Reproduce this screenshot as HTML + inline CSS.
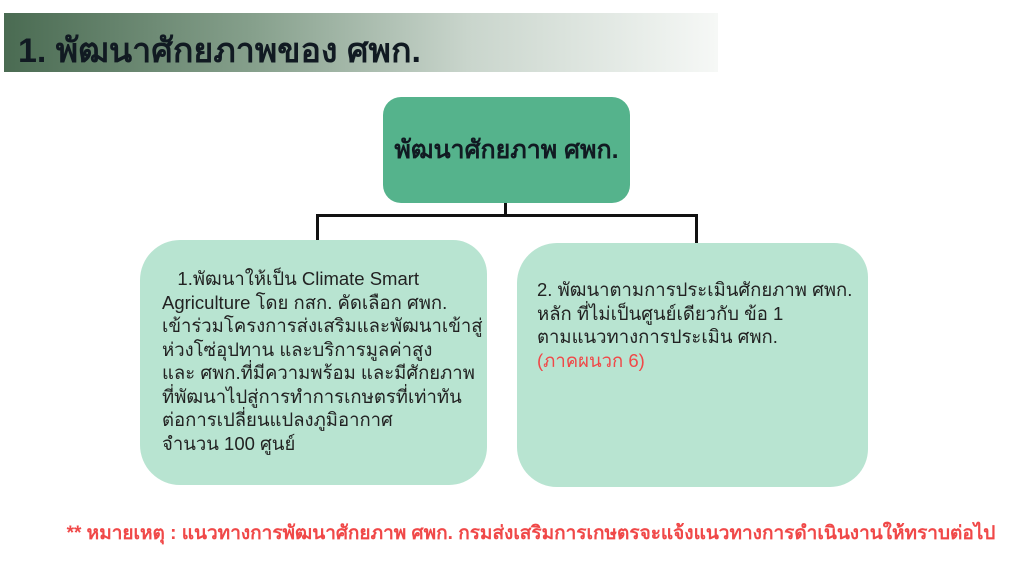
<!DOCTYPE html>
<html><head><meta charset="utf-8"><style>
body{margin:0;width:1024px;height:569px;background:#fff;position:relative;overflow:hidden;font-family:"Liberation Sans","DejaVu Sans",sans-serif;}
.hdr{position:absolute;left:4px;top:13px;width:714px;height:59px;background:linear-gradient(90deg,#4a6b52 0%,#86a08c 35%,#c9d5cc 65%,#f6f8f6 100%);}
.hdr span{position:absolute;left:14px;top:10px;font-size:34px;font-weight:bold;color:#111a22;white-space:nowrap}
.top{position:absolute;left:383px;top:97px;width:247px;height:106px;background:#55b38c;border-radius:18px;display:flex;align-items:center;justify-content:center;font-weight:bold;font-size:25px;color:#111a22;white-space:nowrap}
.ln{position:absolute;background:#111}
.box{position:absolute;background:#b8e4d1;border-radius:40px 34px 38px 40px;color:#222;line-height:23.5px}
.foot{position:absolute;left:19px;width:1024px;top:518px;text-align:center;color:#f04848;font-weight:bold;font-size:19px;white-space:nowrap}
</style></head><body>
<div class="hdr"><span>1. พัฒนาศักยภาพของ ศพก.</span></div>
<div class="top">พัฒนาศักยภาพ ศพก.</div>
<div class="ln" style="left:504px;top:203px;width:3px;height:13px"></div>
<div class="ln" style="left:316px;top:214px;width:382px;height:3px"></div>
<div class="ln" style="left:316px;top:214px;width:3px;height:30px"></div>
<div class="ln" style="left:695px;top:214px;width:3px;height:30px"></div>
<div class="box" style="left:140px;top:240px;width:347px;height:245px;font-size:18.5px">
<div style="position:absolute;left:22px;top:27px;white-space:nowrap">&nbsp;&nbsp;&nbsp;1.พัฒนาให้เป็น Climate Smart<br>Agriculture โดย กสก. คัดเลือก ศพก.<br>เข้าร่วมโครงการส่งเสริมและพัฒนาเข้าสู่<br>ห่วงโซ่อุปทาน และบริการมูลค่าสูง<br>และ ศพก.ที่มีความพร้อม และมีศักยภาพ<br>ที่พัฒนาไปสู่การทำการเกษตรที่เท่าทัน<br>ต่อการเปลี่ยนแปลงภูมิอากาศ<br>จำนวน 100 ศูนย์</div></div>
<div class="box" style="left:517px;top:243px;width:351px;height:244px;font-size:18.5px">
<div style="position:absolute;left:20px;top:35px;white-space:nowrap">2. พัฒนาตามการประเมินศักยภาพ ศพก.<br>หลัก ที่ไม่เป็นศูนย์เดียวกับ ข้อ 1<br>ตามแนวทางการประเมิน ศพก.<br><span style="color:#f04848">(ภาคผนวก 6)</span></div></div>
<div class="foot">** หมายเหตุ : แนวทางการพัฒนาศักยภาพ ศพก. กรมส่งเสริมการเกษตรจะแจ้งแนวทางการดำเนินงานให้ทราบต่อไป</div>
</body></html>
